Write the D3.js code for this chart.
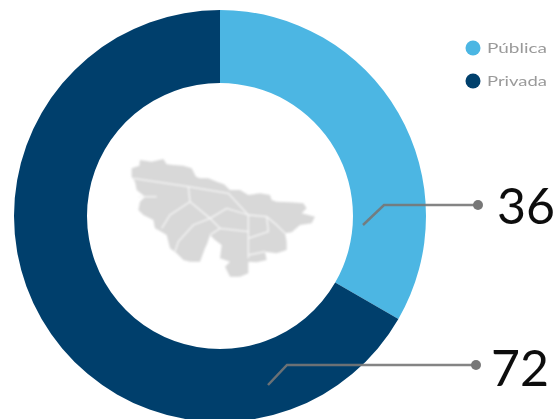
<!DOCTYPE html>
<html>
<head>
<meta charset="utf-8">
<script src="https://cdn.jsdelivr.net/npm/d3@7"></script>
<style>
  html, body { margin: 0; padding: 0; background: #fff; overflow: hidden; }
  text { font-family: Lato, "Open Sans", sans-serif; }
</style>
</head>
<body>
<svg id="chart" width="560" height="419"></svg>
<script>
const categories = ['Pública', 'Privada'];
const values = [36, 72];
const colors = ['#4cb6e3', '#003f6c'];

// outline of the region, traced in map units
const regionOutline = [
  [35, 70], [58, 62], [60, 45], [95, 50], [130, 42], [140, 58], [160, 60], [190, 62], [215, 70],
  [228, 95], [240, 100], [265, 100], [290, 110], [312, 118], [330, 135], [360, 135],
  [385, 150], [420, 145], [450, 150], [455, 165], [470, 170], [510, 172], [550, 175], [560, 190],
  [545, 205], [585, 215], [575, 235], [540, 240], [515, 262], [495, 265], [500, 290], [500, 315],
  [470, 325], [435, 320], [440, 345], [410, 352], [385, 350], [385, 385], [360, 395], [330, 395],
  [315, 365], [330, 350], [300, 340], [305, 300], [285, 285], [270, 270], [262, 295],
  [255, 310], [240, 350], [210, 350], [190, 345], [170, 325], [150, 310], [140, 270], [120, 258],
  [105, 250], [100, 225], [70, 210], [55, 195], [60, 170], [75, 155], [50, 135], [45, 110], [35, 95],
];
const regionBorders = [
  [[40, 100], [205, 125], [325, 145], [385, 210], [385, 340]],
  [[205, 125], [210, 170], [270, 220], [320, 190], [385, 210]],
  [[210, 170], [150, 210], [125, 250]],
  [[270, 220], [220, 240], [175, 290], [165, 320]],
  [[270, 220], [300, 250], [270, 270]],
  [[55, 155], [110, 155]],
  [[385, 210], [440, 215], [470, 240], [495, 265]],
  [[440, 215], [445, 260], [385, 280]],
  [[300, 250], [385, 260]],
  [[385, 330], [435, 320]],
];

const svg = d3.select('#chart');
const cx = 220;
const cy = 216;
const outerR = 206;
const innerR = 133;

const defs = svg.append('defs');
defs.append('filter').attr('id', 'soft')
  .append('feGaussianBlur').attr('stdDeviation', 0.8);
defs.append('filter').attr('id', 'softer')
  .append('feGaussianBlur').attr('stdDeviation', 0.55);
defs.append('filter').attr('id', 'slight')
  .append('feGaussianBlur').attr('stdDeviation', 0.35);

// donut
const pie = d3.pie().sort(null)(values);
const arc = d3.arc().innerRadius(innerR).outerRadius(outerR);
svg.append('g')
  .attr('transform', `translate(${cx},${cy})`)
  .selectAll('path')
  .data(pie)
  .join('path')
  .attr('d', arc)
  .attr('fill', (d, i) => colors[i]);

// map in the hole
const mapX = d3.scaleLinear().domain([0, 630]).range([120, 330]);
const mapY = d3.scaleLinear().domain([0, 420]).range([145, 285]);
const mapLine = d3.line().x(d => mapX(d[0])).y(d => mapY(d[1]));
const map = svg.append('g').attr('filter', 'url(#soft)');
map.append('path')
  .attr('d', mapLine(regionOutline) + 'Z')
  .attr('fill', '#d8d8d8');
map.selectAll('path.border')
  .data(regionBorders)
  .join('path')
  .attr('class', 'border')
  .attr('d', d => mapLine(d))
  .attr('fill', 'none')
  .attr('stroke', '#f6f6f6')
  .attr('stroke-width', 1.3);

// legend
const legend = svg.append('g').attr('filter', 'url(#softer)');
const legendY = d3.scalePoint().domain(categories).range([48, 81]);
legend.selectAll('circle')
  .data(categories)
  .join('circle')
  .attr('cx', 473)
  .attr('cy', d => legendY(d))
  .attr('r', 7.5)
  .attr('fill', (d, i) => colors[i]);
legend.selectAll('text')
  .data(categories)
  .join('text')
  .attr('x', 487)
  .attr('y', d => legendY(d) + 4.5)
  .attr('font-size', 13)
  .attr('font-family', '"DejaVu Sans", sans-serif')
  .attr('textLength', 60)
  .attr('lengthAdjust', 'spacingAndGlyphs')
  .attr('fill', '#9a9a9a')
  .text(d => d);

// leaders with the values
const leaders = [
  { start: [363, 225], elbow: [384, 205], end: [478, 205], labelX: 497, labelY: 224 },
  { start: [268, 385], elbow: [287, 365], end: [476, 365], labelX: 491, labelY: 386 },
];
const leader = svg.selectAll('g.leader')
  .data(leaders)
  .join('g')
  .attr('class', 'leader')
  .attr('filter', 'url(#slight)');
leader.append('path')
  .attr('d', d => d3.line()([d.start, d.elbow, d.end]))
  .attr('fill', 'none')
  .attr('stroke', '#777')
  .attr('stroke-opacity', 0.9)
  .attr('stroke-width', 2.5);
leader.append('circle')
  .attr('cx', d => d.end[0])
  .attr('cy', d => d.end[1])
  .attr('r', 5)
  .attr('fill', '#777');
leader.append('text')
  .attr('x', d => d.labelX)
  .attr('y', d => d.labelY)
  .attr('font-size', 50)
  .attr('font-weight', 400)
  .attr('fill', '#111')
  .text((d, i) => values[i]);
</script>
</body>
</html>
